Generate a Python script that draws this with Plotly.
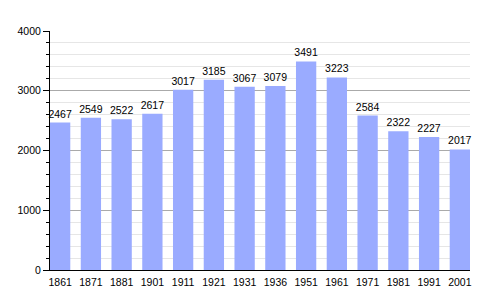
import plotly.graph_objects as go

years = ["1861", "1871", "1881", "1901", "1911", "1921", "1931", "1936", "1951", "1961", "1971", "1981", "1991", "2001"]
population = [2467, 2549, 2522, 2617, 3017, 3185, 3067, 3079, 3491, 3223, 2584, 2322, 2227, 2017]

fig = go.Figure(go.Bar(
    x=years, y=population,
    text=[str(v) for v in population],
    textposition="outside",
    constraintext="none",
    textfont=dict(size=10.5, color="black", family="Liberation Sans, Arial, sans-serif"),
    marker=dict(color="#9aabff", line=dict(width=0)),
    width=0.66,
    cliponaxis=False,
))

fig.update_layout(
    width=500, height=300,
    margin=dict(l=50, r=30, t=31, b=30),
    paper_bgcolor="white", plot_bgcolor="white",
    font=dict(family="Liberation Sans, Arial, sans-serif", size=10.5, color="black"),
    showlegend=False,
)
fig.update_xaxes(
    type="category", range=[-0.33, 13.33],
    showline=True, linecolor="black", linewidth=1,
    ticks="", showgrid=False, ticklabelstandoff=2,
)
fig.update_yaxes(
    range=[0, 4000], dtick=1000, tick0=0,
    showline=True, linecolor="black", linewidth=1,
    ticks="outside", ticklen=6, tickcolor="black",
    showgrid=True, gridcolor="#aaaaaa", gridwidth=1,
    zeroline=False,
    minor=dict(dtick=200, showgrid=True, gridcolor="#e6e6e6", ticks="outside", ticklen=3, tickcolor="black"),
)

fig.write_html("out.html")
